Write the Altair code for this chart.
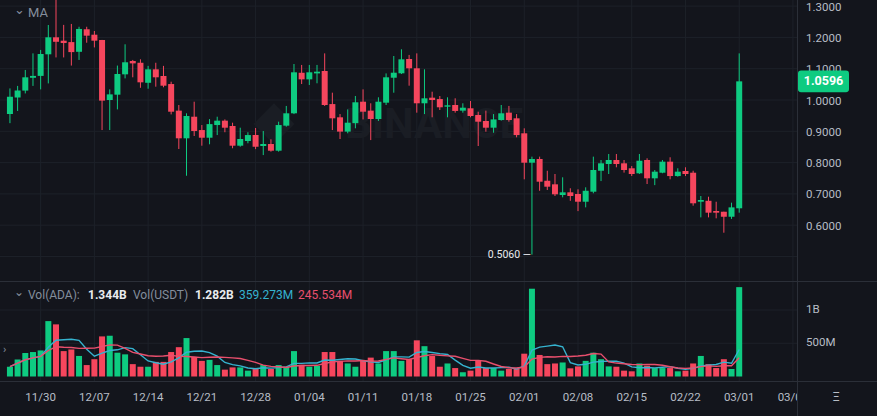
import altair as alt
import pandas as pd

# ---------------- data ----------------
dates = pd.date_range("2024-11-26", "2025-03-01", freq="D").strftime("%Y-%m-%d").tolist()

opens = [0.955, 1.008, 1.030, 1.071, 1.077, 1.146, 1.2003, 1.1895, 1.185, 1.154,
         1.226, 1.2086, 1.1917, 1.000, 1.017, 1.082, 1.1246, 1.119, 1.055, 1.098,
         1.0767, 1.051, 0.966, 0.8776, 0.9466, 0.904, 0.8795, 0.920, 0.934, 0.917,
         0.854, 0.869, 0.888, 0.853, 0.8595, 0.838, 0.918, 0.9575, 1.087, 1.066,
         1.085, 1.0927, 0.987, 0.9447, 0.899, 0.926, 0.9946, 0.966, 0.9393, 0.9914,
         1.0712, 1.0853, 1.131, 1.1013, 0.9895, 1.0074, 1.003, 0.9786, 0.984, 0.966,
         0.9735, 0.952, 0.933, 0.9115, 0.936, 0.9595, 0.9415, 0.8936, 0.7997, 0.8115,
         0.742, 0.7306, 0.6965, 0.705, 0.6997, 0.675, 0.707, 0.774, 0.7955, 0.8083,
         0.7977, 0.7818, 0.7658, 0.8083, 0.7498, 0.7677, 0.803, 0.757, 0.7732, 0.7677,
         0.675, 0.678, 0.6454, 0.643, 0.627, 0.654]
highs = [1.037, 1.045, 1.096, 1.149, 1.160, 1.2396, 1.326, 1.240, 1.243, 1.234,
         1.234, 1.2205, 1.192, 1.034, 1.110, 1.178, 1.128, 1.130, 1.109, 1.119,
         1.109, 1.0585, 0.984, 0.9575, 0.9946, 0.920, 0.939, 0.9466, 0.938, 0.9275,
         0.9115, 0.897, 0.9105, 0.901, 0.8745, 0.9307, 0.981, 1.115, 1.112, 1.112,
         1.112, 1.149, 1.0234, 0.955, 0.970, 1.0128, 1.034, 0.9895, 1.0086, 1.085,
         1.1406, 1.162, 1.144, 1.149, 1.098, 1.0265, 1.0128, 1.0086, 1.0054, 0.9895,
         0.9968, 0.9626, 0.966, 0.955, 0.984, 0.981, 0.955, 0.9095, 0.819, 0.819,
         0.774, 0.7636, 0.753, 0.718, 0.7147, 0.721, 0.819, 0.8083, 0.8275, 0.8275,
         0.8083, 0.789, 0.8275, 0.8137, 0.7763, 0.8083, 0.817, 0.7818, 0.785, 0.774,
         0.6933, 0.691, 0.675, 0.643, 0.672, 1.149]
lows = [0.926, 0.965, 1.021, 1.045, 1.034, 1.053, 1.136, 1.136, 1.110, 1.128,
        1.183, 1.168, 0.904, 0.904, 0.970, 1.069, 1.0725, 1.039, 1.036, 1.0425,
        1.0406, 0.954, 0.8435, 0.758, 0.885, 0.854, 0.8585, 0.888, 0.897, 0.8457,
        0.8508, 0.8617, 0.843, 0.824, 0.835, 0.835, 0.9147, 0.955, 1.051, 1.048,
        1.0534, 0.981, 0.904, 0.8754, 0.8936, 0.9095, 0.938, 0.872, 0.933, 0.984,
        1.0233, 1.083, 1.0457, 0.9595, 0.955, 0.9447, 0.968, 0.9447, 0.9595, 0.9595,
        0.9447, 0.853, 0.8987, 0.8955, 0.934, 0.9307, 0.8808, 0.7466, 0.506, 0.710,
        0.7125, 0.6933, 0.689, 0.678, 0.645, 0.657, 0.702, 0.741, 0.7636, 0.785,
        0.768, 0.757, 0.7636, 0.7316, 0.728, 0.766, 0.7466, 0.755, 0.757, 0.6623,
        0.625, 0.625, 0.622, 0.576, 0.620, 0.640]
closes = [1.0106, 1.030, 1.0725, 1.077, 1.147, 1.2003, 1.186, 1.182, 1.153, 1.227,
          1.2055, 1.1895, 0.998, 1.018, 1.083, 1.1205, 1.117, 1.0565, 1.098, 1.0725,
          1.0457, 0.9626, 0.8776, 0.9489, 0.901, 0.8795, 0.923, 0.934, 0.9115, 0.854,
          0.8754, 0.888, 0.8508, 0.8595, 0.838, 0.920, 0.9575, 1.0885, 1.066, 1.0885,
          1.0905, 0.984, 0.9415, 0.899, 0.9275, 0.9927, 0.9626, 0.9393, 0.9946, 1.0725,
          1.0872, 1.130, 1.1013, 0.9895, 1.0054, 1.000, 0.9767, 0.983, 0.965, 0.9754,
          0.9489, 0.9307, 0.9115, 0.938, 0.9575, 0.936, 0.888, 0.7997, 0.8115, 0.739,
          0.723, 0.6987, 0.705, 0.6933, 0.675, 0.710, 0.7763, 0.7977, 0.8083, 0.7955,
          0.7763, 0.7636, 0.806, 0.7498, 0.771, 0.803, 0.757, 0.771, 0.7636, 0.670,
          0.6805, 0.640, 0.640, 0.627, 0.657, 1.0596]
volumes_m = [147, 255, 353, 368, 392, 833, 784, 382, 407, 309,
             172, 260, 603, 613, 358, 333, 186, 147, 147, 220,
             220, 368, 441, 578, 294, 235, 250, 172, 103, 137,
             137, 88, 123, 172, 113, 172, 147, 382, 176, 147,
             162, 368, 368, 235, 196, 147, 235, 284, 196, 382,
             382, 235, 260, 544, 456, 309, 147, 196, 127, 64,
             88, 235, 127, 127, 88, 113, 113, 343, 1320, 324,
             186, 196, 211, 123, 152, 235, 358, 260, 152, 147,
             88, 78, 196, 162, 127, 127, 127, 78, 88, 196,
             309, 186, 127, 260, 113, 1344]

tick_dates = ["2024-11-30", "2024-12-07", "2024-12-14", "2024-12-21", "2024-12-28",
              "2025-01-04", "2025-01-11", "2025-01-18", "2025-01-25", "2025-02-01",
              "2025-02-08", "2025-02-15", "2025-02-22", "2025-03-01", "2025-03-08"]
tick_labels = ["11/30", "12/07", "12/14", "12/21", "12/28", "01/04", "01/11", "01/18",
               "01/25", "02/01", "02/08", "02/15", "02/22", "03/01", "03/08"]

price_grid = [0.5, 0.6, 0.7, 0.8, 0.9, 1.0, 1.1, 1.2, 1.3]
price_ticks = [0.6, 0.7, 0.8, 0.9, 1.0, 1.1, 1.2, 1.3]
vol_ticks = [500e6, 1e9]
vol_tick_labels = ["500M", "1B"]

low_mark_date = ["2025-02-02"]
low_mark_value = [0.5060]
last_price = [1.0596]

# ---------------- styling ----------------
BG = "#13151c"
GRID = "#1d2129"
SEP = "#2b2f38"
TXT = "#b7bdc6"
MUTED = "#848e9c"
WHITE = "#eaecef"
UP = "#0ecb81"
DOWN = "#f6465d"
CYAN = "#35b3cf"
PINK = "#e94f6d"
FONT = "Roboto"

W, H = 877, 416
PX_PER_DAY = 7.765
day_ms = 86400000.0
t0 = pd.Timestamp("2024-11-26", tz="UTC").value / 1e6
xmin = t0 - 0.644 * day_ms
xmax = xmin + W / PX_PER_DAY * day_ms

xs = alt.Scale(type="utc", domain=[xmin, xmax], nice=False)
ps = alt.Scale(domain=[-0.0096, 1.3195], nice=False, zero=False)
vs = alt.Scale(domain=[-0.594e9, 5.6617e9], nice=False, zero=False)

cdf = pd.DataFrame({"date": dates, "open": opens, "high": highs, "low": lows,
                    "close": closes, "vol": [v * 1e6 for v in volumes_m]})
cdf["dir"] = ["up" if c >= o else "down" for o, c in zip(opens, closes)]
tick_df = pd.DataFrame({"date": tick_dates, "label": tick_labels})
pgrid_df = pd.DataFrame({"p": price_grid})
plab_df = pd.DataFrame({"p": price_ticks, "label": [f"{v:.4f}" for v in price_ticks]})
vtick_df = pd.DataFrame({"v": vol_ticks, "label": vol_tick_labels})
low_df = pd.DataFrame({"date": low_mark_date, "p": low_mark_value,
                       "label": [f"{v:.4f} —" for v in low_mark_value]})
tag_df = pd.DataFrame({"p": last_price, "label": [f"{v:.4f}" for v in last_price]})
one = pd.DataFrame({"a": [0]})

X = alt.X("date:T", scale=xs, axis=None)
col = alt.Color("dir:N", scale=alt.Scale(domain=["up", "down"], range=[UP, DOWN]), legend=None)

layers = []

# grid
layers.append(alt.Chart(tick_df).mark_rule(color=GRID, strokeWidth=1).encode(
    x=X, y=alt.value(0), y2=alt.value(381)))
layers.append(alt.Chart(pgrid_df).mark_rule(color=GRID, strokeWidth=1).encode(
    y=alt.Y("p:Q", scale=ps, axis=None), x=alt.value(0), x2=alt.value(797)))
layers.append(alt.Chart(vtick_df).mark_rule(color=GRID, strokeWidth=1).encode(
    y=alt.Y("v:Q", scale=vs, axis=None), x=alt.value(0), x2=alt.value(797)))

# watermark
layers.append(alt.Chart(one).mark_text(text="BINANCE", font=FONT, fontSize=42, fontWeight="bold",
                                       color="#1a1d24", align="center", baseline="middle").encode(
    x=alt.value(434), y=alt.value(125)))
layers.append(alt.Chart(one).mark_text(text="◆", font="DejaVu Sans", fontSize=54,
                                       color="#1a1d24", align="center", baseline="middle").encode(
    x=alt.value(274), y=alt.value(122)))

# candles
layers.append(alt.Chart(cdf).mark_rule(strokeWidth=1, clip=True).encode(
    x=X, y=alt.Y("high:Q", scale=ps, axis=None), y2="low:Q", color=col))
layers.append(alt.Chart(cdf).mark_bar(size=6, clip=True).encode(
    x=X, y=alt.Y("open:Q", scale=ps, axis=None), y2="close:Q", color=col))

# volume
layers.append(alt.Chart(cdf).mark_bar(size=6).encode(
    x=X, y=alt.Y("vol:Q", scale=vs, axis=None), color=col))
layers.append(alt.Chart(cdf).transform_window(
    ma5="mean(vol)", frame=[-4, 0], sort=[alt.SortField("date")]).mark_line(
    color=CYAN, strokeWidth=1.4).encode(x=X, y=alt.Y("ma5:Q", scale=vs, axis=None)))
layers.append(alt.Chart(cdf).transform_window(
    ma10="mean(vol)", frame=[-9, 0], sort=[alt.SortField("date")]).mark_line(
    color=PINK, strokeWidth=1.4).encode(x=X, y=alt.Y("ma10:Q", scale=vs, axis=None)))

# date labels
layers.append(alt.Chart(tick_df).mark_text(font=FONT, fontSize=11.5, color=TXT,
                                           align="center", baseline="middle").encode(
    x=X, y=alt.value(398), text="label:N"))

# low annotation
layers.append(alt.Chart(low_df).mark_text(font=FONT, fontSize=10.5, color=WHITE,
                                          align="right", baseline="middle", dx=-1).encode(
    x=X, y=alt.Y("p:Q", scale=ps, axis=None), text="label:N"))

# legends
def label(txt, x, y, color=MUTED, size=12, weight="normal", font=FONT):
    return alt.Chart(one).mark_text(text=txt, font=font, fontSize=size, fontWeight=weight,
                                    color=color, align="left", baseline="middle").encode(
        x=alt.value(x), y=alt.value(y))

layers.append(label("⌄", 14, 10, size=13, font="DejaVu Sans"))
layers.append(label("MA", 28, 13, size=13))
layers.append(label("⌄", 14, 292, size=12, font="DejaVu Sans"))
layers.append(label("Vol(ADA):", 28, 295))
layers.append(label("1.344B", 88, 295, color=WHITE, weight="bold"))
layers.append(label("Vol(USDT)", 133, 295))
layers.append(label("1.282B", 195, 295, color=WHITE, weight="bold"))
layers.append(label("359.273M", 239, 295, color=CYAN))
layers.append(label("245.534M", 298, 295, color=PINK))
layers.append(label("›", 3, 350, size=11))

# right panel cover
layers.append(alt.Chart(one).mark_rect(color=BG).encode(
    x=alt.value(797), x2=alt.value(W), y=alt.value(0), y2=alt.value(H)))

# separators
layers.append(alt.Chart(one).mark_rule(color=SEP, strokeWidth=1).encode(
    x=alt.value(797.5), y=alt.value(0), y2=alt.value(H)))
layers.append(alt.Chart(one).mark_rule(color=SEP, strokeWidth=1).encode(
    y=alt.value(281.5), x=alt.value(0), x2=alt.value(W)))
layers.append(alt.Chart(one).mark_rule(color=SEP, strokeWidth=1).encode(
    y=alt.value(381.5), x=alt.value(0), x2=alt.value(W)))

# right axis labels
layers.append(alt.Chart(plab_df).mark_text(font=FONT, fontSize=11.5, color=TXT, dy=1.5,
                                           align="left", baseline="middle").encode(
    x=alt.value(806), y=alt.Y("p:Q", scale=ps, axis=None), text="label:N"))
layers.append(alt.Chart(vtick_df).mark_text(font=FONT, fontSize=11.5, color=TXT,
                                            align="left", baseline="middle").encode(
    x=alt.value(806), y=alt.Y("v:Q", scale=vs, axis=None), text="label:N"))

# last price tag
tag_path = ("M-0.88,-0.4235 L0.88,-0.4235 Q1,-0.4235 1,-0.3 L1,0.3 Q1,0.4235 0.88,0.4235 "
            "L-0.88,0.4235 Q-1,0.4235 -1,0.3 L-1,-0.3 Q-1,-0.4235 -0.88,-0.4235 Z")
layers.append(alt.Chart(tag_df).mark_point(shape=tag_path, size=2601, filled=True,
                                           color=UP, opacity=1, strokeWidth=0).encode(
    x=alt.value(823.5), y=alt.Y("p:Q", scale=ps, axis=None)))
layers.append(alt.Chart(tag_df).mark_text(font=FONT, fontSize=12.5, fontWeight="bold",
                                          color="#ffffff", align="center", baseline="middle").encode(
    x=alt.value(823.5), y=alt.Y("p:Q", scale=ps, axis=None), text="label:N"))

# scale icon
layers.append(alt.Chart(one).mark_text(text="Ξ", font="DejaVu Sans", fontSize=13, color=TXT,
                                       align="center", baseline="middle").encode(
    x=alt.value(836), y=alt.value(397)))

chart = alt.layer(*layers).resolve_scale(y="independent").properties(
    width=W, height=H, background=BG, padding=0,
    autosize=alt.AutoSizeParams(type="none")
).configure_view(stroke=None)

chart.save("out.html", embed_options={"renderer": "svg", "actions": False})
